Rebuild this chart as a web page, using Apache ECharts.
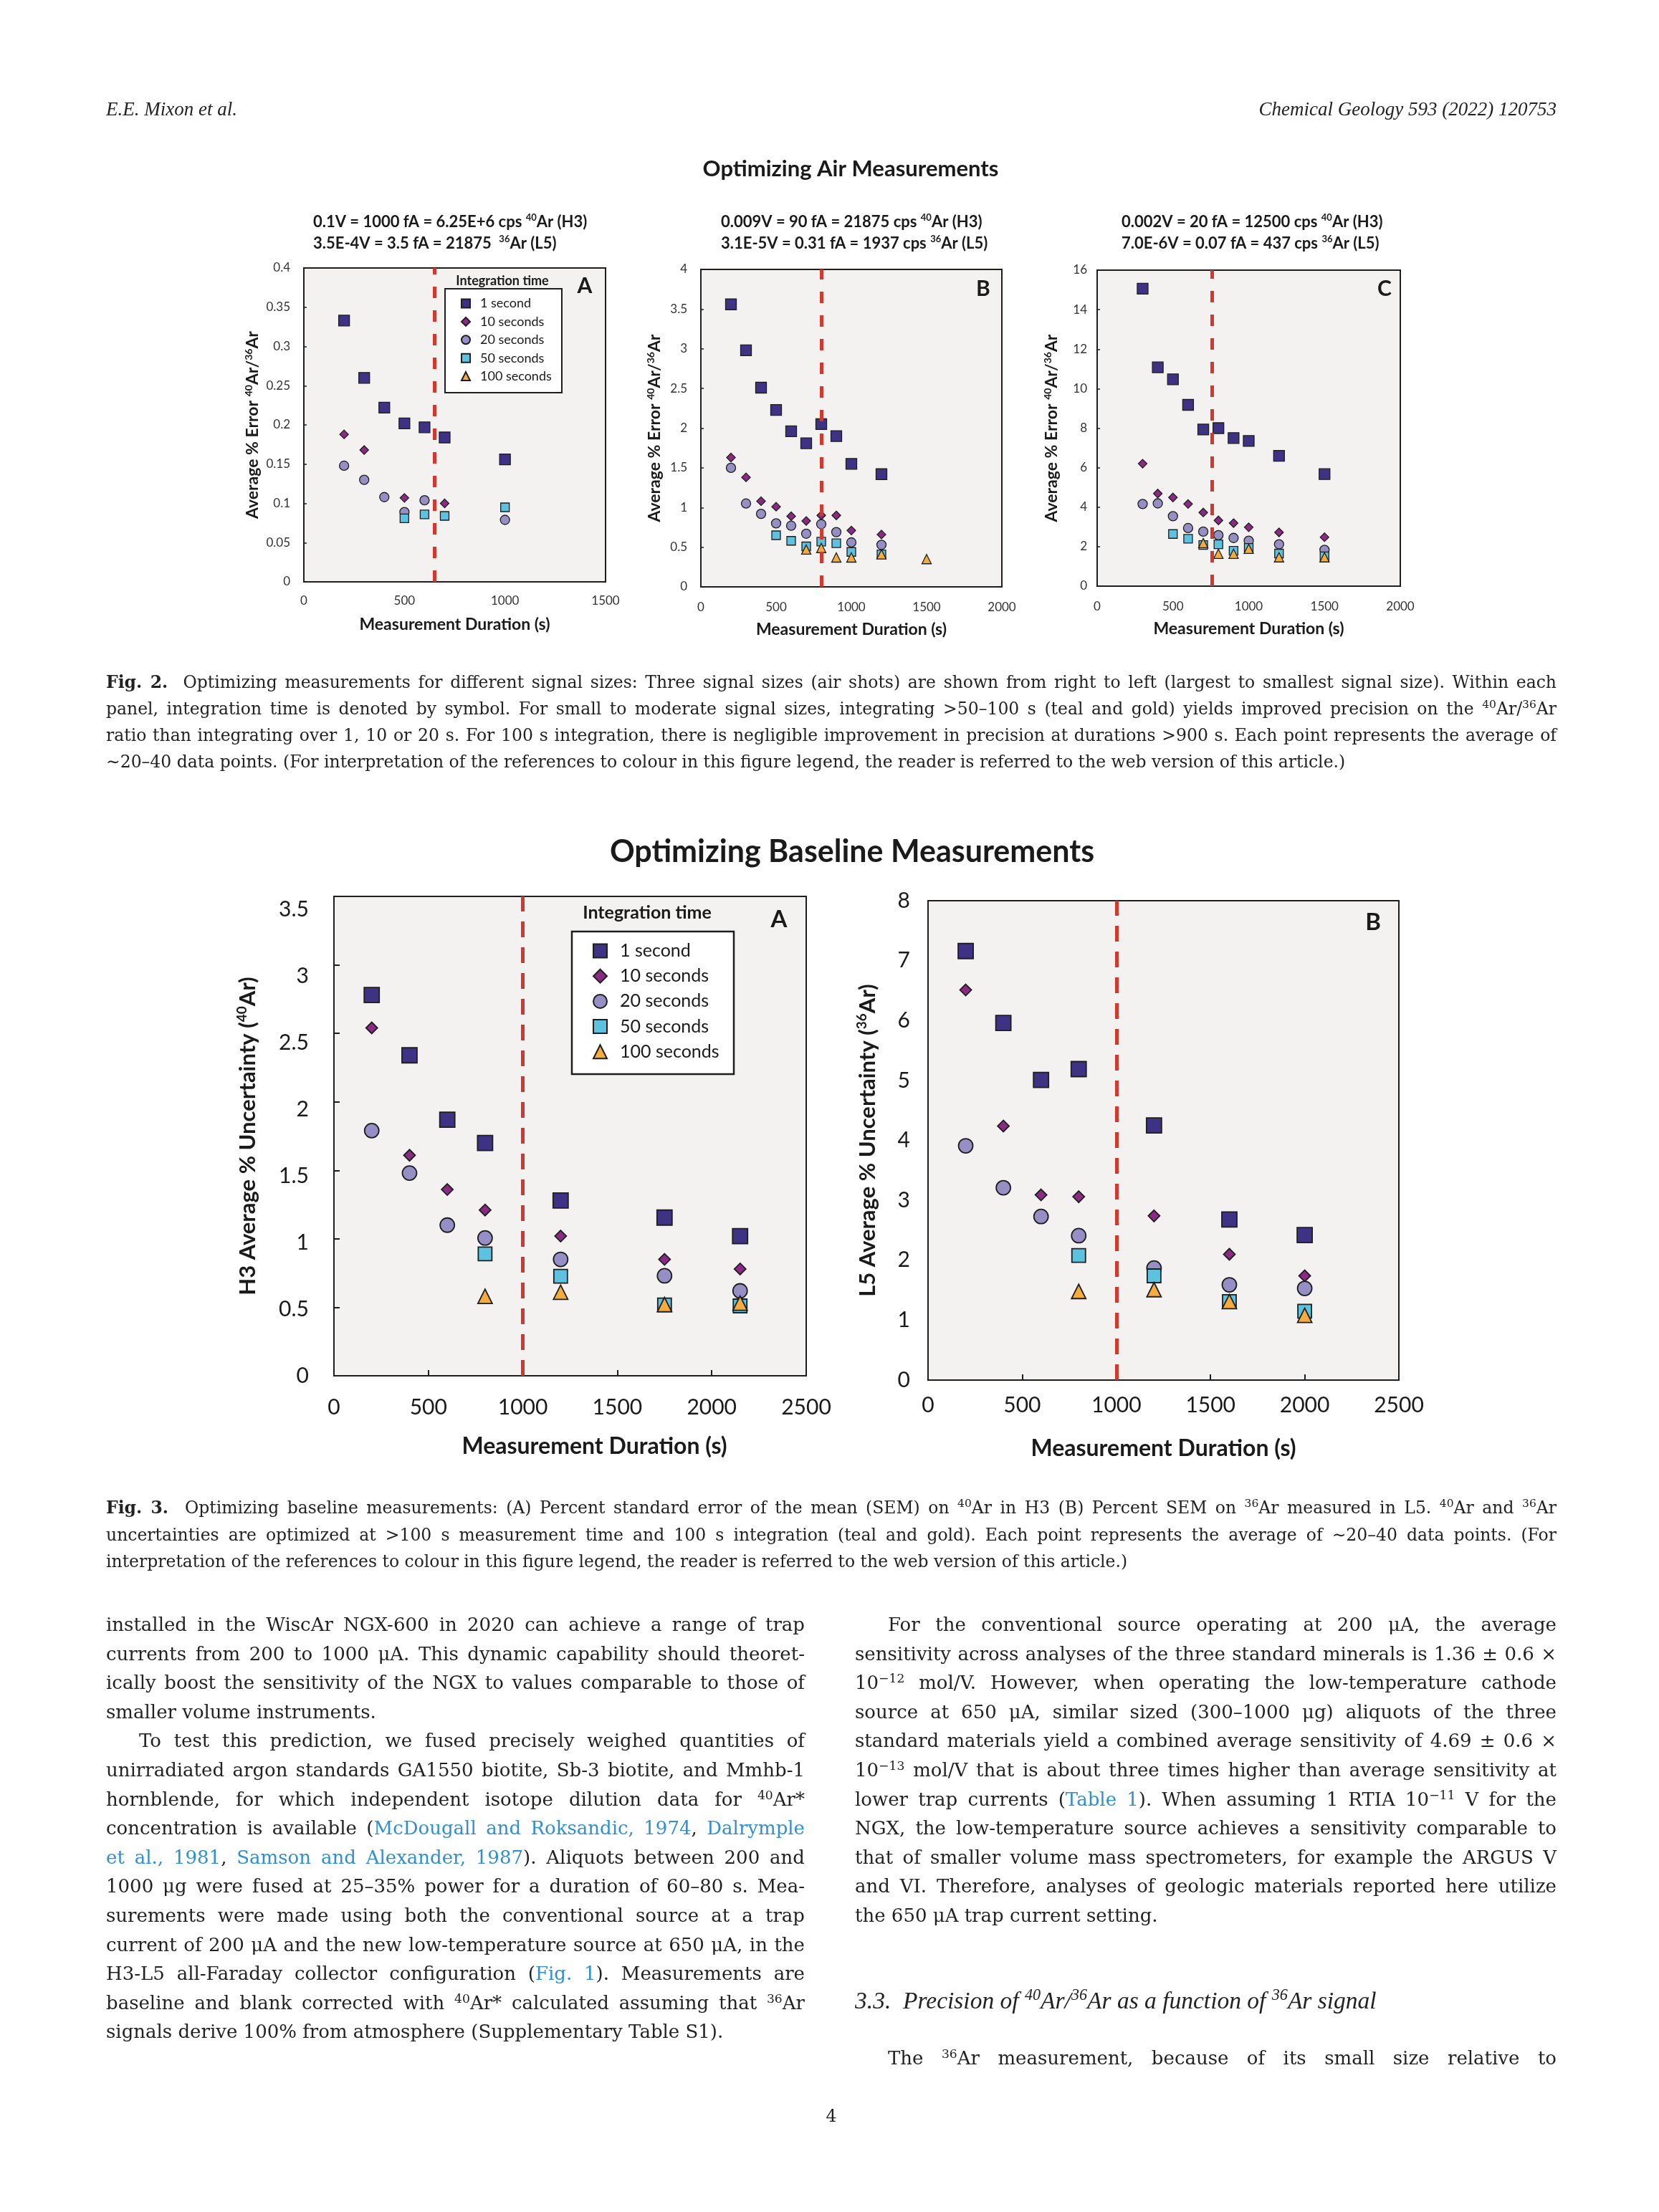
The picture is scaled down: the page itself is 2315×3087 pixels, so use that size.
<!DOCTYPE html>
<html><head><meta charset="utf-8">
<script src="https://cdn.jsdelivr.net/npm/echarts@6/dist/echarts.min.js"></script>
<style>
html,body{margin:0;padding:0;background:#fff;}
body{position:relative;width:2315px;height:3087px;overflow:hidden;}
#chart{position:absolute;left:0;top:0;width:2315px;height:3087px;}
.tx{position:absolute;font-family:'DejaVu Serif',serif;color:#222;box-sizing:border-box;white-space:nowrap;}
.b{font-size:26px;line-height:40px;height:40px;}
.c{font-size:23.5px;line-height:36px;height:36px;}
.h{font-family:'Liberation Serif',serif;font-size:27px;line-height:34px;font-style:italic;}
.hd{font-family:'Liberation Serif',serif;font-size:33.5px;line-height:40px;font-style:italic;}
.j{text-align:justify;text-align-last:justify;}
.r{text-align:right;}
.ctr{text-align:center;}
.ind{padding-left:46px;}
sup{font-size:0.66em;line-height:0;vertical-align:0.55em;}
a{color:#2f8fcf;text-decoration:none;}
</style>
</head><body>
<div id="chart"></div>
<script>
// ---------- DATA ----------
const seriesNames = ['1 second','10 seconds','20 seconds','50 seconds','100 seconds'];

// Fig. 2A  (0.1 V air)
const airA_dur_1s  = [200,300,400,500,600,700,1000];
const airA_1s      = [0.333,0.260,0.222,0.202,0.197,0.184,0.156];
const airA_dur_10s = [200,300,500,700];
const airA_10s     = [0.188,0.168,0.107,0.100];
const airA_dur_20s = [200,300,400,500,600,1000];
const airA_20s     = [0.148,0.130,0.108,0.089,0.104,0.079];
const airA_dur_50s = [500,600,700,1000];
const airA_50s     = [0.081,0.086,0.084,0.095];
const airA_dur_100s = [];
const airA_100s     = [];

// Fig. 2B  (0.009 V air)
const airB_dur     = [200,300,400,500,600,700,800,900,1000,1200];
const airB_1s      = [3.56,2.98,2.51,2.23,1.96,1.81,2.05,1.90,1.55,1.42];
const airB_10s     = [1.63,1.38,1.08,1.01,0.89,0.83,0.90,0.90,0.71,0.66];
const airB_20s     = [1.50,1.05,0.92,0.80,0.77,0.67,0.79,0.69,0.56,0.53];
const airB_dur_50s = [500,600,700,800,900,1000,1200];
const airB_50s     = [0.65,0.58,0.51,0.57,0.55,0.44,0.41];
const airB_dur_100s = [700,800,900,1000,1200,1500];
const airB_100s     = [0.47,0.49,0.37,0.37,0.41,0.35];

// Fig. 2C  (0.002 V air)
const airC_dur     = [300,400,500,600,700,800,900,1000,1200,1500];
const airC_1s      = [15.06,11.08,10.47,9.18,7.93,8.00,7.50,7.35,6.60,5.67];
const airC_10s     = [6.20,4.69,4.49,4.16,3.73,3.33,3.19,2.98,2.72,2.48];
const airC_20s     = [4.16,4.19,3.54,2.94,2.76,2.58,2.44,2.30,2.12,1.84];
const airC_dur_50s = [500,600,700,800,900,1000,1200,1500];
const airC_50s     = [2.64,2.40,2.08,2.12,1.79,1.94,1.65,1.51];
const airC_dur_100s = [700,800,900,1000,1200,1500];
const airC_100s     = [2.18,1.64,1.64,1.89,1.46,1.46];

// Fig. 3A  (H3, 40Ar baseline)
const h3_dur       = [200,400,600,800,1200,1750,2150];
const h3_1s        = [2.78,2.34,1.87,1.70,1.28,1.155,1.02];
const h3_10s       = [2.54,1.61,1.36,1.21,1.02,0.85,0.78];
const h3_20s       = [1.79,1.48,1.10,1.006,0.85,0.73,0.62];
const h3_dur_long  = [800,1200,1750,2150];
const h3_50s       = [0.89,0.727,0.517,0.51];
const h3_100s      = [0.58,0.61,0.52,0.53];

// Fig. 3B  (L5, 36Ar baseline)
const l5_dur       = [200,400,600,800,1200,1600,2000];
const l5_1s        = [7.16,5.96,5.01,5.19,4.25,2.68,2.42];
const l5_10s       = [6.51,4.24,3.09,3.06,2.74,2.10,1.74];
const l5_20s       = [3.91,3.21,2.73,2.41,1.87,1.59,1.53];
const l5_dur_long  = [800,1200,1600,2000];
const l5_50s       = [2.08,1.74,1.31,1.15];
const l5_100s      = [1.48,1.51,1.31,1.08];

// dashed optimum lines (measurement duration, s)
const cutoffs = [650, 800, 760, 1000, 1000];
// axis ranges [xMax, yMax, yInterval]
const axisRanges = [[1500,0.4,0.05],[2000,4,0.5],[2000,16,2],[2500,3.5,0.5],[2500,8,1]];

// ---------- STYLE / LAYOUT ----------
const FONT = 'Lato';
const INK = '#1a1a1a';
const symbols = ['rect','diamond','circle','rect','triangle'];
const colors = ['#3d3283','#8b2a84','#958fc6','#5cc2df','#f5ab3d'];
const grids = [
  {left:424, top:374, width:421, height:438},
  {left:978, top:376, width:420, height:443},
  {left:1531,top:377, width:423, height:441},
  {left:466, top:1251,width:659, height:669},
  {left:1295,top:1257,width:657, height:669}
];
const panels = [
  {d:[airA_dur_1s,airA_dur_10s,airA_dur_20s,airA_dur_50s,airA_dur_100s], v:[airA_1s,airA_10s,airA_20s,airA_50s,airA_100s]},
  {d:[airB_dur,airB_dur,airB_dur,airB_dur_50s,airB_dur_100s], v:[airB_1s,airB_10s,airB_20s,airB_50s,airB_100s]},
  {d:[airC_dur,airC_dur,airC_dur,airC_dur_50s,airC_dur_100s], v:[airC_1s,airC_10s,airC_20s,airC_50s,airC_100s]},
  {d:[h3_dur,h3_dur,h3_dur,h3_dur_long,h3_dur_long], v:[h3_1s,h3_10s,h3_20s,h3_50s,h3_100s]},
  {d:[l5_dur,l5_dur,l5_dur,l5_dur_long,l5_dur_long], v:[l5_1s,l5_10s,l5_20s,l5_50s,l5_100s]}
];
const sizes2 = [15,12,13,12,13], sizes3 = [21,16,20,19,20];
const fmt = v => String(+(+v).toFixed(4));

function supRich(fs, lh){ return {s:{fontSize:fs, fontWeight:'bold', fontFamily:FONT, color:INK, fill:INK, verticalAlign:'top', lineHeight:lh}}; }

const xCfg = [ // labelMargin, nameGap, namePadding
  [18,48,0],[20,48,0],[20,48,0],[29,83,[0,0,0,68]],[20,80,0]
];
const yCfg = [ // labelMargin, nameGap, name
  [19,58,'Average % Error {s|40}Ar/{s|36}Ar'],
  [19,51,'Average % Error {s|40}Ar/{s|36}Ar'],
  [14,50,'Average % Error {s|40}Ar/{s|36}Ar'],
  [35,102,'H3 Average % Uncertainty ({s|40}Ar)'],
  [25,66,'L5 Average % Uncertainty ({s|36}Ar)']
];

const xAxis = [], yAxis = [], series = [];
grids.forEach((g,gi)=>{
  const f3 = gi >= 3;
  const [xMax,yMax,yInt] = axisRanges[gi];
  xAxis.push({
    gridIndex:gi, type:'value', min:0, max:xMax, interval:500,
    axisLine:{show:true, onZero:false, lineStyle:{color:'#1e1e1e', width:2}},
    axisTick:{show:f3, inside:true, length:8, lineStyle:{color:'#1e1e1e', width:2}},
    axisLabel:{fontSize:f3?30:17, color:f3?INK:'#333', margin:xCfg[gi][0], fontFamily:FONT, hideOverlap:false, showMinLabel:true, showMaxLabel:true, formatter:fmt},
    splitLine:{show:false},
    name:'Measurement Duration (s)', nameLocation:'middle', nameGap:xCfg[gi][1], nameMoveOverlap:false,
    nameTextStyle:{fontSize:f3?32:23, fontWeight:'bold', color:INK, fontFamily:FONT, padding:xCfg[gi][2]}
  });
  yAxis.push({
    gridIndex:gi, type:'value', min:0, max:yMax, interval:yInt,
    axisLine:{show:true, onZero:false, lineStyle:{color:'#1e1e1e', width:2}},
    axisTick:{show:gi!==4, inside:true, length:f3?8:4, lineStyle:{color:'#1e1e1e', width:f3?2:1.5}},
    axisLabel:{show:gi!==3, fontSize:f3?30:17, color:f3?INK:'#333', margin:yCfg[gi][0], fontFamily:FONT, hideOverlap:false, formatter:fmt},
    splitLine:{show:false},
    name:yCfg[gi][2], nameLocation:'middle', nameRotate:90, nameGap:yCfg[gi][1], nameMoveOverlap:false,
    nameTextStyle:{fontSize:f3?31:23, fontWeight:'bold', color:INK, fontFamily:FONT, lineHeight:f3?36:26, rich:supRich(f3?19:14, f3?20:15)}
  });
  const p = panels[gi];
  const sz = f3 ? sizes3 : sizes2;
  seriesNames.forEach((nm,k)=>{
    series.push({
      type:'scatter', name:nm, xAxisIndex:gi, yAxisIndex:gi,
      symbol:symbols[k], symbolSize:sz[k],
      data:p.d[k].map((x,i)=>[x,p.v[k][i]]),
      itemStyle:{color:colors[k], borderColor:'#1e1e1e', borderWidth:f3?1.8:1.3, opacity:1},
      z:3
    });
  });
  series.push({
    type:'line', name:'cut'+gi, xAxisIndex:gi, yAxisIndex:gi, data:[], z:1, silent:true,
    markLine:{silent:true, symbol:'none', animation:false, label:{show:false},
      lineStyle:{color:'#cf3a30', width:5, type:f3?[22,14]:[16,17]},
      data:[{xAxis:cutoffs[gi]}]}
  });
});
// separate label axis for Fig. 3A (labels in the original are slightly compressed vs. the ticks)
yAxis.push({
  gridIndex:3, type:'value', min:0, max:3.6, interval:0.5, position:'left',
  axisLine:{show:false}, axisTick:{show:false}, splitLine:{show:false},
  axisLabel:{fontSize:30, color:INK, margin:35, fontFamily:FONT, showMaxLabel:false, hideOverlap:false, formatter:fmt}
});

function gtext(x,y,text,size,weight,extra){
  return {type:'text', x:x, y:y, z:20, style:Object.assign({text:text, fontSize:size, fontWeight:weight, fontFamily:FONT, fill:INK, align:'center', verticalAlign:'middle'}, extra||{})};
}
const titleRich = {rich:{s:{fontSize:13, fontWeight:'bold', fontFamily:FONT, fill:INK, verticalAlign:'top', lineHeight:13}}, lineHeight:26, align:'left'};

const graphic = [
  gtext(1187,236,'Optimizing Air Measurements',31,'bold'),
  gtext(1189,1189,'Optimizing Baseline Measurements',43,'bold'),
  gtext(437,310,'0.1V = 1000 fA = 6.25E+6 cps {s|40}Ar (H3)',22,'bold',titleRich),
  gtext(437,340,'3.5E-4V = 3.5 fA = 21875  {s|36}Ar (L5)',22,'bold',titleRich),
  gtext(1006,310,'0.009V = 90 fA = 21875 cps {s|40}Ar (H3)',22,'bold',titleRich),
  gtext(1006,340,'3.1E-5V = 0.31 fA = 1937 cps {s|36}Ar (L5)',22,'bold',titleRich),
  gtext(1565,310,'0.002V = 20 fA = 12500 cps {s|40}Ar (H3)',22,'bold',titleRich),
  gtext(1565,340,'7.0E-6V = 0.07 fA = 437 cps {s|36}Ar (L5)',22,'bold',titleRich),
  {type:'rect', z:10, shape:{x:621,y:403,width:163,height:145}, style:{fill:'#fff', stroke:'#1e1e1e', lineWidth:2}},
  {type:'rect', z:10, shape:{x:798,y:1300,width:226,height:199}, style:{fill:'#fff', stroke:'#1e1e1e', lineWidth:2.5}},
  gtext(701,392,'Integration time',18,'bold'),
  gtext(903,1274,'Integration time',25,'bold'),
  gtext(816,399,'A',30,'bold'),
  gtext(1372,403,'B',30,'bold'),
  gtext(1932,403,'C',30,'bold'),
  gtext(1087,1283,'A',33,'bold'),
  gtext(1916,1287,'B',33,'bold')
];

const legendData = seriesNames.map((n,k)=>({name:n, icon:symbols[k]}));
const legend = [
  {data:legendData, orient:'vertical', left:643, top:414.5, itemWidth:12, itemHeight:12, itemGap:7.4, padding:0,
   selectedMode:false, z:30, textStyle:{fontSize:18, fontFamily:FONT, color:INK, padding:[0,0,0,9]}},
  {data:legendData, orient:'vertical', left:827, top:1314.5, itemWidth:19, itemHeight:19, itemGap:10.2, padding:0,
   selectedMode:false, z:30, textStyle:{fontSize:25, fontFamily:FONT, color:INK, padding:[0,0,0,13]}}
];

const chart = echarts.init(document.getElementById('chart'), null, {renderer:'canvas'});
chart.setOption({
  animation:false,
  backgroundColor:'transparent',
  textStyle:{fontFamily:FONT},
  grid:grids.map(g=>Object.assign({show:true, backgroundColor:'#f3f2f0', borderColor:'#1e1e1e', borderWidth:2, containLabel:false, outerBoundsMode:'none'}, g)),
  xAxis:xAxis, yAxis:yAxis, series:series, legend:legend, graphic:graphic
});

// ---------- PAGE TEXT ----------
function put(html, x, top, w, cls){
  const d = document.createElement('div');
  d.className = 'tx ' + cls;
  d.style.left = x + 'px'; d.style.top = top + 'px';
  if (w) d.style.width = w + 'px';
  d.innerHTML = html;
  document.body.appendChild(d);
}
put('E.E. Mixon et al.', 148, 135, 0, 'h');
put('Chemical Geology 593 (2022) 120753', 1400, 135, 772, 'h r');

const cap2 = [
  ['<b>Fig. 2.</b>&nbsp; Optimizing measurements for different signal sizes: Three signal sizes (air shots) are shown from right to left (largest to smallest signal size). Within each','j'],
  ['panel, integration time is denoted by symbol. For small to moderate signal sizes, integrating &gt;50–100 s (teal and gold) yields improved precision on the <sup>40</sup>Ar/<sup>36</sup>Ar','j'],
  ['ratio than integrating over 1, 10 or 20 s. For 100 s integration, there is negligible improvement in precision at durations &gt;900 s. Each point represents the average of','j'],
  ['∼20–40 data points. (For interpretation of the references to colour in this figure legend, the reader is referred to the web version of this article.)','']
];
cap2.forEach((l,i)=>put(l[0], 148, 934 + 37*i, 2024, 'c ' + l[1]));

const cap3 = [
  ['<b>Fig. 3.</b>&nbsp; Optimizing baseline measurements: (A) Percent standard error of the mean (SEM) on <sup>40</sup>Ar in H3 (B) Percent SEM on <sup>36</sup>Ar measured in L5. <sup>40</sup>Ar and <sup>36</sup>Ar','j'],
  ['uncertainties are optimized at &gt;100 s measurement time and 100 s integration (teal and gold). Each point represents the average of ∼20–40 data points. (For','j'],
  ['interpretation of the references to colour in this figure legend, the reader is referred to the web version of this article.)','']
];
cap3.forEach((l,i)=>put(l[0], 148, 2086 + 37.5*i, 2024, 'c ' + l[1]));

const leftCol = [
  ['installed in the WiscAr NGX-600 in 2020 can achieve a range of trap','j'],
  ['currents from 200 to 1000 μA. This dynamic capability should theoret-','j'],
  ['ically boost the sensitivity of the NGX to values comparable to those of','j'],
  ['smaller volume instruments.',''],
  ['To test this prediction, we fused precisely weighed quantities of','j ind'],
  ['unirradiated argon standards GA1550 biotite, Sb-3 biotite, and Mmhb-1','j'],
  ['hornblende, for which independent isotope dilution data for <sup>40</sup>Ar*','j'],
  ['concentration is available (<a>McDougall and Roksandic, 1974</a>, <a>Dalrymple</a>','j'],
  ['<a>et al., 1981</a>, <a>Samson and Alexander, 1987</a>). Aliquots between 200 and','j'],
  ['1000 μg were fused at 25–35% power for a duration of 60–80 s. Mea-','j'],
  ['surements were made using both the conventional source at a trap','j'],
  ['current of 200 μA and the new low-temperature source at 650 μA, in the','j'],
  ['H3-L5 all-Faraday collector configuration (<a>Fig. 1</a>). Measurements are','j'],
  ['baseline and blank corrected with <sup>40</sup>Ar* calculated assuming that <sup>36</sup>Ar','j'],
  ['signals derive 100% from atmosphere (Supplementary Table S1).','']
];
leftCol.forEach((l,i)=>put(l[0], 148, 2247 + 40.6*i, 975, 'b ' + l[1]));

const rightCol = [
  ['For the conventional source operating at 200 μA, the average','j ind'],
  ['sensitivity across analyses of the three standard minerals is 1.36 ± 0.6 ×','j'],
  ['10<sup>−12</sup> mol/V. However, when operating the low-temperature cathode','j'],
  ['source at 650 μA, similar sized (300–1000 μg) aliquots of the three','j'],
  ['standard materials yield a combined average sensitivity of 4.69 ± 0.6 ×','j'],
  ['10<sup>−13</sup> mol/V that is about three times higher than average sensitivity at','j'],
  ['lower trap currents (<a>Table 1</a>). When assuming 1 RTIA 10<sup>−11</sup> V for the','j'],
  ['NGX, the low-temperature source achieves a sensitivity comparable to','j'],
  ['that of smaller volume mass spectrometers, for example the ARGUS V','j'],
  ['and VI. Therefore, analyses of geologic materials reported here utilize','j'],
  ['the 650 μA trap current setting.','']
];
rightCol.forEach((l,i)=>put(l[0], 1193, 2247 + 40.6*i, 979, 'b ' + l[1]));
put('3.3.&nbsp; Precision of <sup>40</sup>Ar/<sup>36</sup>Ar as a function of <sup>36</sup>Ar signal', 1193, 2772, 979, 'hd');
put('The <sup>36</sup>Ar measurement, because of its small size relative to', 1193, 2852, 979, 'b j ind');
put('4', 1100, 2935, 120, 'c ctr');
</script>
</body></html>
